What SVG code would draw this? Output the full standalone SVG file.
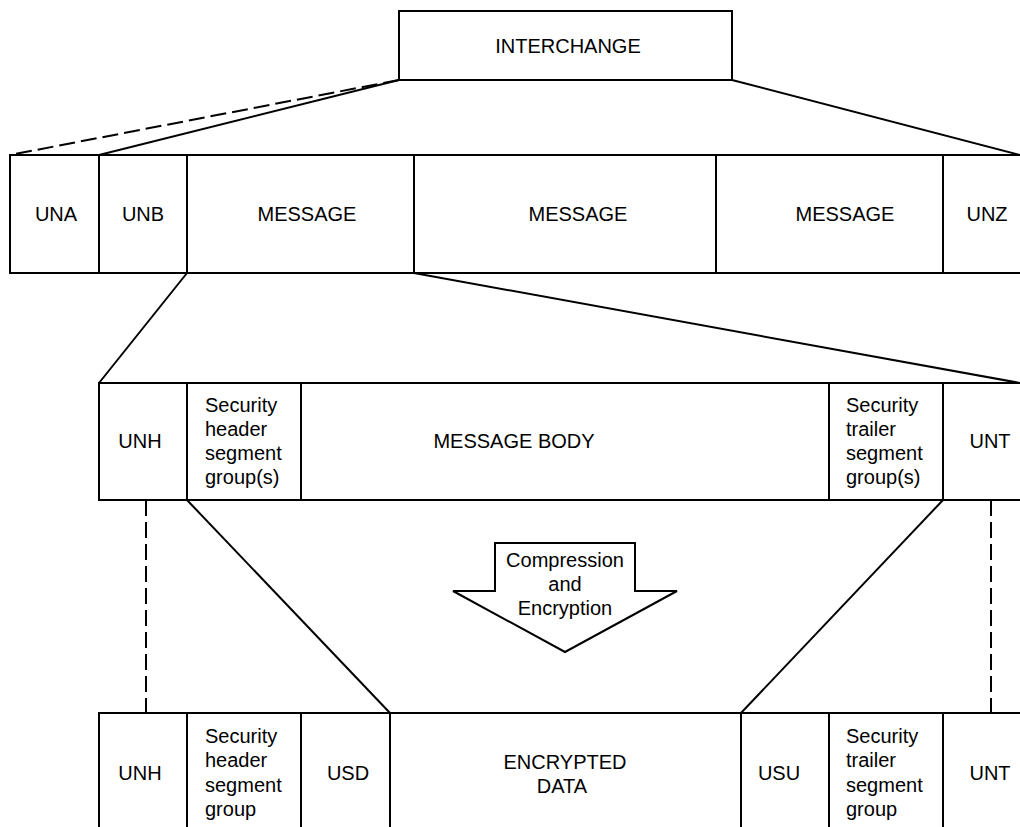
<svg xmlns="http://www.w3.org/2000/svg" width="1020" height="827" viewBox="0 0 1020 827">
  <style>
    .box { fill: #ffffff; stroke: #000000; stroke-width: 2; }
    .ln { fill: none; stroke: #000000; stroke-width: 2; }
    .dash { fill: none; stroke: #000000; stroke-width: 2; stroke-dasharray: 16 6; }
    text { font-family: "Liberation Sans", Arial, sans-serif; font-size: 20px; fill: #000000; }
    .c { text-anchor: middle; }
  </style>
  <rect width="1020" height="827" fill="#ffffff"/>

  <!-- connectors between levels -->
  <g id="connectors">
    <line class="dash" x1="399" y1="80" x2="10" y2="155"/>
    <line class="ln" x1="399" y1="80" x2="99" y2="155"/>
    <line class="ln" x1="732" y1="80" x2="1020" y2="155"/>
    <line class="ln" x1="187" y1="273" x2="99" y2="383"/>
    <line class="ln" x1="414" y1="273" x2="1020" y2="383"/>
    <line class="dash" x1="146" y1="500" x2="146" y2="713"/>
    <line class="dash" x1="991" y1="500" x2="991" y2="713"/>
    <line class="ln" x1="187" y1="500" x2="390" y2="713"/>
    <line class="ln" x1="943" y1="500" x2="741" y2="713"/>
  </g>

  <!-- top level -->
  <g id="interchange">
    <rect class="box" x="399" y="11" width="333" height="69"/>
    <text class="c" x="568" y="53">INTERCHANGE</text>
  </g>

  <!-- interchange row -->
  <g id="una">
    <rect class="box" x="10" y="155" width="89" height="118"/>
    <text class="c" x="56" y="221">UNA</text>
  </g>
  <g id="unb">
    <rect class="box" x="99" y="155" width="88" height="118"/>
    <text class="c" x="143" y="221">UNB</text>
  </g>
  <g id="message1">
    <rect class="box" x="187" y="155" width="227" height="118"/>
    <text class="c" x="307" y="221">MESSAGE</text>
  </g>
  <g id="message2">
    <rect class="box" x="414" y="155" width="302" height="118"/>
    <text class="c" x="578" y="221">MESSAGE</text>
  </g>
  <g id="message3">
    <rect class="box" x="716" y="155" width="227" height="118"/>
    <text class="c" x="845" y="221">MESSAGE</text>
  </g>
  <g id="unz">
    <rect class="box" x="943" y="155" width="90" height="118"/>
    <text class="c" x="987" y="221">UNZ</text>
  </g>

  <!-- message row -->
  <g id="msg-unh">
    <rect class="box" x="99" y="383" width="88" height="117"/>
    <text class="c" x="140" y="448">UNH</text>
  </g>
  <g id="msg-sec-header">
    <rect class="box" x="187" y="383" width="114" height="117"/>
    <text x="205" y="412">Security</text>
    <text x="205" y="436">header</text>
    <text x="205" y="460">segment</text>
    <text x="205" y="484">group(s)</text>
  </g>
  <g id="msg-body">
    <rect class="box" x="301" y="383" width="528" height="117"/>
    <text class="c" x="514" y="448">MESSAGE BODY</text>
  </g>
  <g id="msg-sec-trailer">
    <rect class="box" x="829" y="383" width="114" height="117"/>
    <text x="846" y="412">Security</text>
    <text x="846" y="436">trailer</text>
    <text x="846" y="460">segment</text>
    <text x="846" y="484">group(s)</text>
  </g>
  <g id="msg-unt">
    <rect class="box" x="943" y="383" width="90" height="117"/>
    <text class="c" x="990" y="448">UNT</text>
  </g>

  <!-- transformation arrow -->
  <g id="compress-arrow">
    <polygon class="box" points="495,543 635,543 635,591 677,591 565,652 453,591 495,591"/>
    <text class="c" x="565" y="567">Compression</text>
    <text class="c" x="565" y="591">and</text>
    <text class="c" x="565" y="615">Encryption</text>
  </g>

  <!-- secured message row -->
  <g id="sec-unh">
    <rect class="box" x="99" y="713" width="88" height="130"/>
    <text class="c" x="140" y="780">UNH</text>
  </g>
  <g id="sec-header">
    <rect class="box" x="187" y="713" width="114" height="130"/>
    <text x="205" y="743">Security</text>
    <text x="205" y="767">header</text>
    <text x="205" y="792">segment</text>
    <text x="205" y="816">group</text>
  </g>
  <g id="usd">
    <rect class="box" x="301" y="713" width="89" height="130"/>
    <text class="c" x="348" y="780">USD</text>
  </g>
  <g id="encrypted-data">
    <rect class="box" x="390" y="713" width="351" height="130"/>
    <text class="c" x="565" y="769">ENCRYPTED</text>
    <text class="c" x="562" y="793">DATA</text>
  </g>
  <g id="usu">
    <rect class="box" x="741" y="713" width="88" height="130"/>
    <text class="c" x="779" y="780">USU</text>
  </g>
  <g id="sec-trailer">
    <rect class="box" x="829" y="713" width="114" height="130"/>
    <text x="846" y="743">Security</text>
    <text x="846" y="767">trailer</text>
    <text x="846" y="792">segment</text>
    <text x="846" y="816">group</text>
  </g>
  <g id="sec-unt">
    <rect class="box" x="943" y="713" width="90" height="130"/>
    <text class="c" x="990" y="780">UNT</text>
  </g>
</svg>
